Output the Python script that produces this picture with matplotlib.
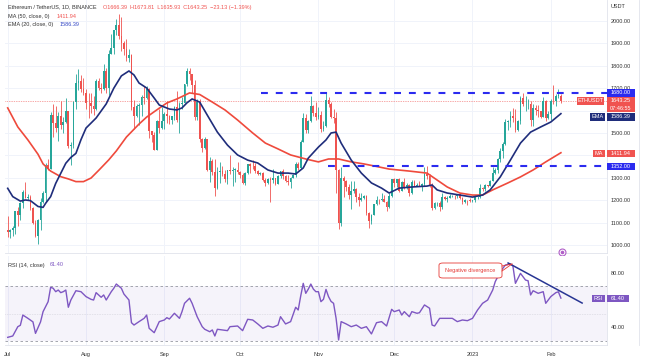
import numpy as np
import matplotlib
matplotlib.use("Agg")
import matplotlib.pyplot as plt
from matplotlib.patches import Rectangle, FancyBboxPatch
from matplotlib.lines import Line2D

plt.rcParams["font.family"] = ["Liberation Sans", "DejaVu Sans"]

# ETH/USDT daily candles, 2022-07-01 .. 2023-02-05 (index 0 = Jul 1)
first_open = 1067.0
close = [
    # Jul
    1060, 1067, 1074, 1150, 1134, 1187, 1237, 1212, 1216, 1167, 1098, 1039, 1112, 1192, 1232, 1355,
    1339, 1580, 1545, 1521, 1576, 1535, 1550, 1596, 1440, 1448, 1637, 1725, 1734, 1695, 1680,
    # Aug
    1634, 1633, 1619, 1607, 1730, 1700, 1697, 1776, 1700, 1853, 1880, 1958, 1983, 1935, 1901, 1877,
    1834, 1848, 1614, 1577, 1619, 1623, 1659, 1657, 1696, 1508, 1490, 1424, 1552, 1524, 1553,
    # Sep
    1586, 1577, 1556, 1577, 1617, 1560, 1629, 1635, 1718, 1775, 1762, 1715, 1573, 1637, 1472,
    1432, 1472, 1336, 1377, 1325, 1253, 1328, 1329, 1317, 1294, 1335, 1330, 1336, 1336, 1328,
    # Oct
    1311, 1276, 1323, 1362, 1352, 1351, 1331, 1316, 1322, 1291, 1279, 1294, 1288, 1297, 1274, 1306,
    1331, 1310, 1285, 1282, 1300, 1314, 1363, 1345, 1461, 1566, 1513, 1554, 1619, 1590, 1572,
    # Nov
    1579, 1519, 1531, 1646, 1628, 1570, 1567, 1333, 1100, 1299, 1286, 1257, 1221, 1242, 1252,
    1215, 1201, 1212, 1219, 1142, 1108, 1136, 1184, 1203, 1199, 1204, 1194, 1170, 1217, 1296,
    # Dec
    1276, 1293, 1240, 1280, 1259, 1270, 1232, 1281, 1265, 1266, 1263, 1274, 1318, 1309, 1266, 1166,
    1186, 1187, 1168, 1215, 1206, 1212, 1218, 1220, 1218, 1226, 1212, 1190, 1201, 1199, 1196,
    # Jan
    1200, 1214, 1214, 1256, 1251, 1269, 1264, 1287, 1321, 1336, 1384, 1418, 1451, 1550, 1552, 1577,
    1567, 1515, 1553, 1658, 1628, 1628, 1628, 1556, 1611, 1603, 1598, 1572, 1644, 1567, 1585,
    # Feb
    1643, 1641, 1665, 1666.39, 1643.25,
]
high = [
    1129, 1073, 1084, 1152, 1168, 1193, 1244, 1280, 1228, 1222, 1168, 1110, 1114, 1208, 1241, 1365,
    1385, 1595, 1630, 1620, 1595, 1645, 1572, 1655, 1600, 1462, 1641, 1765, 1785, 1757, 1745,
    1698, 1677, 1680, 1665, 1743, 1745, 1723, 1807, 1788, 1870, 1943, 1960, 2008, 2030, 2020, 1912,
    1920, 1876, 1851, 1647, 1629, 1634, 1670, 1710, 1710, 1703, 1510, 1505, 1556, 1605, 1615,
    1595, 1645, 1580, 1577, 1620, 1688, 1640, 1660, 1720, 1790, 1790, 1763, 1735, 1650, 1652,
    1476, 1484, 1472, 1393, 1385, 1386, 1346, 1370, 1351, 1333, 1336, 1403, 1349, 1345, 1370,
    1331, 1322, 1327, 1363, 1364, 1380, 1365, 1336, 1326, 1328, 1297, 1300, 1305, 1341, 1299, 1312,
    1332, 1340, 1313, 1312, 1302, 1317, 1369, 1372, 1468, 1590, 1585, 1558, 1664, 1624, 1640,
    1615, 1599, 1555, 1681, 1660, 1640, 1608, 1592, 1340, 1346, 1310, 1288, 1271, 1286, 1285,
    1255, 1230, 1232, 1225, 1222, 1146, 1139, 1185, 1220, 1205, 1232, 1222, 1198, 1230, 1296,
    1300, 1296, 1297, 1286, 1301, 1278, 1272, 1288, 1290, 1279, 1284, 1279, 1350, 1352, 1316, 1277,
    1191, 1193, 1196, 1230, 1220, 1219, 1226, 1223, 1225, 1228, 1231, 1214, 1205, 1201, 1208,
    1202, 1224, 1218, 1271, 1259, 1272, 1270, 1290, 1347, 1345, 1390, 1432, 1459, 1564, 1556, 1598,
    1610, 1608, 1559, 1664, 1680, 1665, 1650, 1641, 1630, 1627, 1624, 1600, 1660, 1647, 1600,
    1652, 1716, 1675, 1695, 1673.81,
]
low = [
    1036, 1031, 1039, 1050, 1085, 1111, 1166, 1209, 1200, 1156, 1093, 1034, 1006, 1069, 1187, 1191,
    1335, 1339, 1480, 1505, 1464, 1520, 1501, 1543, 1433, 1356, 1433, 1606, 1691, 1683, 1671,
    1606, 1566, 1590, 1582, 1604, 1690, 1680, 1692, 1680, 1671, 1851, 1854, 1939, 1920, 1866, 1848,
    1820, 1818, 1604, 1520, 1570, 1535, 1575, 1630, 1650, 1478, 1460, 1424, 1422, 1500, 1517,
    1520, 1545, 1539, 1542, 1557, 1550, 1502, 1605, 1632, 1708, 1738, 1680, 1558, 1560, 1461,
    1415, 1430, 1332, 1281, 1312, 1220, 1250, 1275, 1310, 1281, 1273, 1315, 1265, 1282, 1317,
    1300, 1272, 1270, 1319, 1321, 1340, 1321, 1312, 1311, 1286, 1265, 1273, 1190, 1279, 1269, 1272,
    1297, 1293, 1280, 1270, 1254, 1297, 1305, 1336, 1338, 1459, 1502, 1500, 1550, 1575, 1559,
    1564, 1505, 1507, 1527, 1616, 1566, 1545, 1230, 1073, 1084, 1213, 1241, 1207, 1160, 1234,
    1190, 1176, 1195, 1205, 1136, 1075, 1092, 1134, 1180, 1183, 1195, 1194, 1153, 1165, 1215,
    1261, 1258, 1237, 1239, 1252, 1248, 1220, 1226, 1263, 1263, 1262, 1240, 1262, 1295, 1257, 1155,
    1160, 1175, 1150, 1161, 1201, 1190, 1210, 1214, 1206, 1212, 1204, 1184, 1186, 1180, 1193,
    1192, 1193, 1206, 1212, 1242, 1240, 1261, 1262, 1286, 1318, 1323, 1372, 1390, 1446, 1515, 1527,
    1548, 1505, 1509, 1542, 1619, 1600, 1605, 1533, 1530, 1580, 1570, 1565, 1570, 1552, 1562,
    1556, 1630, 1620, 1655, 1635.93,
]

# EMA(20) and MA(50) (candle index, value)
ema_idx = [0, 2, 5, 7, 9, 12, 14, 15, 17, 19, 21, 23, 25, 27, 29, 31, 35, 39, 42, 45, 48, 50, 52, 55, 58,
           60, 64, 67, 69, 71, 73, 76, 79, 83, 87, 91, 95, 99, 103, 107, 111, 114, 117, 119, 123, 126,
           128, 130, 132, 136, 140, 144, 148, 151, 155, 160, 166, 168, 170, 174, 179, 184, 188, 191,
           195, 199, 203, 207, 211, 215, 219]
ema_val = [1253, 1216, 1196, 1201, 1198, 1172, 1168, 1186, 1216, 1275, 1320, 1365, 1391, 1409, 1470,
           1522, 1567, 1630, 1700, 1755, 1777, 1759, 1723, 1701, 1656, 1625, 1607, 1603, 1612, 1635,
           1652, 1638, 1580, 1504, 1446, 1402, 1379, 1366, 1335, 1321, 1321, 1317, 1344, 1388, 1437,
           1469, 1500, 1504, 1455, 1379, 1321, 1277, 1254, 1232, 1254, 1259, 1263, 1268, 1246, 1232,
           1223, 1214, 1223, 1246, 1304, 1379, 1455, 1504, 1527, 1549, 1586.39]
ma_idx = [0, 4, 8, 12, 14, 17, 21, 24, 27, 30, 33, 36, 40, 43, 47, 52, 55, 59, 63, 67, 72, 76, 81, 86, 91,
          97, 102, 107, 112, 118, 123, 127, 131, 136, 141, 145, 151, 159, 166, 170, 174, 179, 184, 188,
          192, 198, 203, 208, 213, 219]
ma_val = [1612, 1527, 1469, 1405, 1362, 1330, 1305, 1295, 1283, 1283, 1299, 1333, 1380, 1420, 1482, 1540,
          1571, 1603, 1634, 1652, 1679, 1672, 1638, 1603, 1558, 1500, 1455, 1429, 1402, 1384, 1371, 1384,
          1384, 1371, 1362, 1353, 1339, 1330, 1321, 1290, 1259, 1232, 1223, 1223, 1246, 1277, 1304, 1335,
          1371, 1411.94]

# RSI(14)
rsi_idx = [0, 2, 4, 5, 6, 8, 10, 11, 13, 14, 16, 17, 18, 19, 20, 21, 22, 23, 24, 25, 27, 29, 31, 33, 34,
           35, 37, 38, 39, 41, 42, 43, 45, 46, 48, 49, 50, 52, 54, 55, 56, 58, 60, 62, 63, 64, 66, 68, 69,
           70, 72, 73, 75, 77, 78, 80, 81, 82, 83, 85, 87, 88, 91, 93, 95, 97, 99, 101, 103, 105, 107,
           108, 110, 112, 114, 115, 116, 117, 118, 119, 120, 121, 122, 123, 124, 125, 126, 127, 128,
           129, 130, 131, 132, 134, 136, 138, 140, 142, 144, 146, 148, 150, 152, 153, 155, 156, 157,
           159, 160, 162, 163, 165, 167, 168, 169, 171, 173, 176, 178, 180, 182, 184, 186, 188, 190,
           192, 193, 195, 197, 199, 200, 201, 203, 205, 206, 207, 208, 210, 212, 213, 215, 217, 218, 219]
rsi_val = [32.7, 33.7, 40.5, 41.5, 49.0, 46.6, 44.0, 35.6, 44.0, 51.5, 58.8, 69.3, 68.6, 66.1, 67.3, 65.4,
           66.1, 67.3, 54.7, 60.0, 66.8, 66.1, 62.5, 60.5, 60.0, 65.4, 62.0, 63.7, 60.0, 66.1, 68.6, 71.7,
           68.6, 64.4, 60.0, 43.4, 41.7, 44.2, 46.6, 49.0, 39.3, 36.1, 44.2, 45.4, 47.1, 46.1, 50.3, 46.6,
           51.5, 57.6, 61.3, 57.6, 47.8, 40.5, 38.6, 36.8, 38.1, 33.7, 38.6, 38.1, 37.6, 40.5, 41.0, 37.6,
           45.9, 45.4, 42.5, 39.3, 41.0, 40.1, 41.7, 47.8, 42.5, 44.2, 54.7, 52.7, 63.0, 72.2, 64.9, 68.0,
           71.7, 68.0, 66.1, 66.1, 58.8, 60.5, 67.8, 62.5, 59.0, 57.6, 46.6, 30.8, 44.2, 42.5, 40.5, 41.7,
           39.3, 40.5, 35.2, 43.4, 44.2, 41.0, 53.2, 51.5, 52.7, 49.0, 51.5, 47.8, 51.5, 50.3, 50.7, 56.4,
           54.0, 41.7, 41.0, 46.6, 46.6, 46.6, 44.2, 45.4, 44.9, 46.6, 52.7, 57.6, 60.0, 67.3, 73.4, 80.7,
           85.6, 86.4, 84.9, 72.2, 79.5, 74.6, 74.1, 63.7, 66.8, 64.9, 66.1, 57.6, 62.5, 65.4, 66.0, 61.4]

month_idx = [0, 31, 62, 92, 123, 153, 184, 215]
month_lbl = ["Jul", "Aug", "Sep", "Oct", "Nov", "Dec", "2023", "Feb"]

# price scale: levels hidden behind the value badges get no label
price_ticks = list(range(1000, 2001, 100))
price_lbl = ["" if v in (1400, 1600) else f"{v:.2f}" for v in price_ticks]
rsi_ticks = [40, 60, 80]
rsi_lbl = ["40.00", "", "80.00"]

res_level, res_from = 1680, 100.3
sup_level, sup_from = 1352, 126.8
last_price = 1643.25
trend_x, trend_y = [198.1, 227.4], [87.1, 57.8]
alert_x, alert_y = 219.4, 969

UP, DOWN = "#26a69a", "#ef5350"
RED, BLUE, NAVY, PURPLE = "#f05350", "#2b2bef", "#1f2d7b", "#7e57c2"
TXT = "#333333"

W, H = 645, 363


def fx(px):
    return px / W


def fy(py):
    return 1 - py / H


fig = plt.figure(figsize=(6.45, 3.63), dpi=100, facecolor="white")
ax = fig.add_axes([fx(5), fy(253), fx(607) - fx(5), fy(0) - fy(253)])
rax = fig.add_axes([fx(5), fy(345), fx(607) - fx(5), fy(256) - fy(345)], sharex=ax)

x = np.arange(len(close))
c = np.array(close, dtype=float)
o = np.array([first_open] + close[:-1], dtype=float)
colors = np.where(c >= o, UP, DOWN)

ax.set_xlim(-1.07, 237.25)
ax.set_ylim(964.3, 2093.75)
xmax = ax.get_xlim()[1]

# candles
ax.vlines(x, low, high, colors=colors, lw=0.6, zorder=3)
ax.bar(x, np.maximum(np.abs(c - o), 2.5), bottom=np.minimum(o, c), width=0.68,
       color=colors, lw=0, zorder=3)

# moving averages
ax.plot(ma_idx, ma_val, color="#ef4a3c", lw=1.2, zorder=4, solid_joinstyle="round")
ax.plot(ema_idx, ema_val, color=NAVY, lw=1.2, zorder=4, solid_joinstyle="round")

# levels
ax.plot([res_from, xmax], [res_level, res_level], color=BLUE, lw=1.5, dashes=(3.3, 3.8), zorder=5)
ax.plot([sup_from, xmax], [sup_level, sup_level], color=BLUE, lw=1.5, dashes=(3.3, 3.8), zorder=5)
ax.axhline(last_price, color=RED, lw=0.5, ls=(0, (1, 1.5)), zorder=2)

ax.plot(alert_x, alert_y, "o", ms=5, mfc="white", mec="#b05fc8", mew=0.8, clip_on=False, zorder=10)
ax.plot(alert_x, alert_y, "o", ms=1.6, color="#b05fc8", clip_on=False, zorder=11)

ax.yaxis.tick_right()
ax.set_yticks(price_ticks)
ax.set_yticklabels(price_lbl)
ax.set_xticks(month_idx)
ax.tick_params(axis="y", length=0, pad=2.9, labelsize=4, labelcolor=TXT)
ax.tick_params(axis="x", length=0, labelbottom=False)
ax.grid(True, color="#f0f3fa", lw=0.7)
ax.set_axisbelow(True)

# RSI pane
rax.set_ylim(27.1, 92.2)
rax.axhspan(30, 70, color=PURPLE, alpha=0.07, lw=0)
rax.axhline(70, color="#9598a1", lw=0.6, ls=(0, (3, 3)))
rax.axhline(30, color="#9598a1", lw=0.6, ls=(0, (3, 3)))
rax.axhline(50, color="#9598a1", lw=0.4, ls=(0, (1, 2)), alpha=0.6)
rax.plot(rsi_idx, rsi_val, color=PURPLE, lw=1.0, zorder=4)
rax.plot(trend_x, trend_y, color="#283593", lw=1.1, zorder=5, clip_on=False)

rax.yaxis.tick_right()
rax.set_yticks(rsi_ticks)
rax.set_yticklabels(rsi_lbl)
rax.set_xticks(month_idx)
rax.set_xticklabels(month_lbl)
rax.tick_params(axis="y", length=0, pad=2.9, labelsize=4, labelcolor=TXT)
rax.tick_params(axis="x", length=0, pad=5, labelsize=4, labelcolor=TXT)
rax.grid(True, axis="x", color="#f0f3fa", lw=0.7)
rax.set_axisbelow(True)

for a in (ax, rax):
    a.spines["top"].set_visible(False)
    a.spines["left"].set_visible(False)
    for s in ("right", "bottom"):
        a.spines[s].set_color("#e0e3eb")
        a.spines[s].set_linewidth(0.6)
fig.add_artist(Line2D([fx(639), fx(639)], [fy(0), fy(345)], color="#e0e3eb", lw=0.6))


def badge(x0, x1, y0, y1, color, text, fs=4):
    fig.add_artist(Rectangle((fx(x0), fy(y1)), fx(x1) - fx(x0), fy(y0) - fy(y1),
                             transform=fig.transFigure, facecolor=color, edgecolor="none", zorder=6))
    if text:
        fig.text(fx((x0 + x1) / 2), fy((y0 + y1) / 2), text, color="white", fontsize=fs,
                 ha="center", va="center", zorder=7)


# axis badges
fig.text(fx(611), fy(7), "USDT", fontsize=4, color=TXT, va="center")
badge(607, 635, 89, 97, BLUE, "1680.00")
badge(577, 604, 97, 105, RED, "ETHUSDT")
badge(607, 635, 97, 112, RED, "")
fig.text(fx(621), fy(100.8), "1643.25", color="white", fontsize=4, ha="center", va="center", zorder=7)
fig.text(fx(621), fy(108.2), "07:46:55", color="white", fontsize=4, ha="center", va="center", zorder=7)
badge(590, 605, 113, 120.5, NAVY, "EMA")
badge(607, 635, 113, 120.5, NAVY, "1586.39")
badge(593, 605, 149.5, 157, RED, "MA")
badge(607, 635, 149.5, 157, RED, "1411.94")
badge(607, 635, 162.5, 170, BLUE, "1352.00")
badge(592, 605, 294.5, 302, PURPLE, "RSI")
badge(607, 629, 294.5, 302, PURPLE, "61.40")

# legend texts
fig.text(fx(8), fy(7), "Ethereum / TetherUS, 1D, BINANCE", fontsize=4, color=TXT, va="center")
fig.text(fx(103), fy(7), "O1666.39  H1673.81  L1635.93  C1643.25  \u221223.13 (\u22121.39%)",
         fontsize=4, color=RED, va="center")
fig.text(fx(8), fy(16.7), "MA (50, close, 0)", fontsize=4, color=TXT, va="center")
fig.text(fx(57), fy(16.7), "1411.94", fontsize=4, color=RED, va="center")
fig.text(fx(8), fy(24.7), "EMA (20, close, 0)", fontsize=4, color=TXT, va="center")
fig.text(fx(60), fy(24.7), "1586.39", fontsize=4, color="#3448c5", va="center")
fig.text(fx(8), fy(265), "RSI (14, close)", fontsize=4, color=TXT, va="center")
fig.text(fx(50), fy(265), "61.40", fontsize=4, color=PURPLE, va="center")

# annotation
fig.add_artist(FancyBboxPatch((fx(439), fy(278)), fx(502) - fx(439), fy(263) - fy(278),
                              boxstyle="round,pad=0,rounding_size=0.006", transform=fig.transFigure,
                              facecolor="white", edgecolor="#e53935", lw=0.6, zorder=6))
fig.text(fx(470.5), fy(270.5), "Negative divergence", fontsize=4, color="#e53935",
         ha="center", va="center", zorder=7)
fig.add_artist(Line2D([fx(502), fx(512)], [fy(266), fy(264)], color="#e53935", lw=0.6, zorder=6))
fig.add_artist(Line2D([fx(502), fx(512)], [fy(271), fy(264)], color="#e53935", lw=0.6, zorder=6))

fig.savefig("out.png", dpi=100, facecolor="white")
